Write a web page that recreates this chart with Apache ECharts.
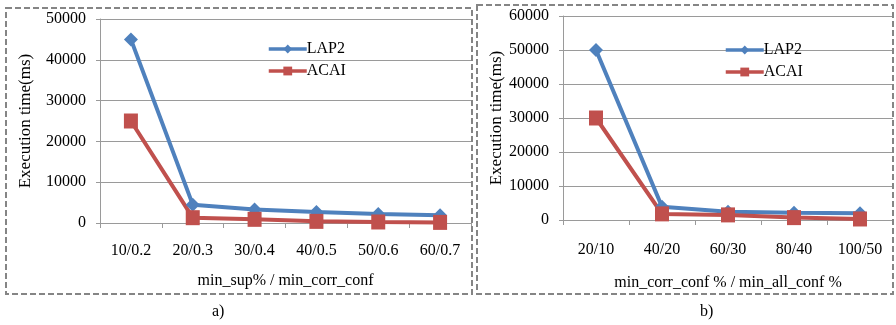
<!DOCTYPE html>
<html>
<head>
<meta charset="utf-8">
<script src="https://cdn.jsdelivr.net/npm/echarts@6/dist/echarts.min.js"></script>
<style>
  html, body { margin: 0; padding: 0; background: #fff; }
  #chart { width: 896px; height: 325px; }
</style>
</head>
<body>
<div id="chart"></div>
<script>
// Panel a): execution time vs. min_sup% / min_corr_conf
const catsA = ['10/0.2', '20/0.3', '30/0.4', '40/0.5', '50/0.6', '60/0.7'];
const lap2A = [45000, 4500, 3300, 2700, 2200, 1900];
const acaiA = [25000, 1300, 900, 400, 250, 150];

// Panel b): execution time vs. min_corr_conf % / min_all_conf %
const catsB = ['20/10', '40/20', '60/30', '80/40', '100/50'];
const lap2B = [50000, 3900, 2400, 2100, 2000];
const acaiB = [30000, 1800, 1500, 700, 300];

const FONT = '"Liberation Serif", "Times New Roman", serif';
const BLUE = '#4F81BD';
const RED = '#C0504D';
const GRID_GRAY = '#9a9a9a';

function xAxis(gridIndex, cats, name, margin, gap) {
  return {
    type: 'category', gridIndex, data: cats,
    boundaryGap: true,
    name, nameLocation: 'middle', nameGap: gap,
    nameTextStyle: { fontFamily: FONT, fontSize: 16, color: '#000' },
    axisLine: { lineStyle: { color: GRID_GRAY, width: 1 } },
    axisTick: { show: true, length: 5, inside: false, lineStyle: { color: GRID_GRAY } },
    axisLabel: { fontFamily: FONT, fontSize: 16, color: '#000', margin, interval: 0 }
  };
}

function yAxis(gridIndex, max, gap) {
  return {
    type: 'value', gridIndex, min: 0, max, interval: 10000,
    name: 'Execution time(ms)', nameLocation: 'middle', nameGap: gap, nameRotate: 90,
    nameTextStyle: { fontFamily: FONT, fontSize: 17, color: '#000' },
    axisLine: { show: true, lineStyle: { color: GRID_GRAY, width: 1 } },
    axisTick: { show: true, length: 4, lineStyle: { color: GRID_GRAY } },
    axisLabel: {
      fontFamily: FONT, fontSize: 16, color: '#000', margin: 14,
      formatter: v => String(v)
    },
    splitLine: { show: true, lineStyle: { color: GRID_GRAY, width: 1 } }
  };
}

function lineSeries(name, data, xi, yi, color, symbol, size) {
  return {
    name, type: 'line', xAxisIndex: xi, yAxisIndex: yi, data,
    symbol, symbolSize: size, showAllSymbol: true,
    lineStyle: { color, width: 4 },
    itemStyle: { color },
    emphasis: { disabled: true },
    animation: false
  };
}

function legend(left, top) {
  return {
    left, top, orient: 'vertical', padding: 0,
    itemWidth: 38, itemHeight: 11, itemGap: 6,
    lineStyle: { width: 3.5 },
    textStyle: { fontFamily: FONT, fontSize: 16, color: '#000', padding: [0, 0, 0, -5] },
    data: ['LAP2', 'ACAI'],
    selectedMode: false
  };
}

const chart = echarts.init(document.getElementById('chart'), null, { renderer: 'canvas' });

chart.setOption({
  animation: false,
  backgroundColor: '#fff',
  grid: [
    { left: 100, top: 19, width: 371, height: 204, containLabel: false },
    { left: 563, top: 16, width: 330, height: 204, containLabel: false }
  ],
  xAxis: [
    xAxis(0, catsA, 'min_sup% / min_corr_conf', 20, 50),
    xAxis(1, catsB, 'min_corr_conf % / min_all_conf %', 22, 55)
  ],
  yAxis: [
    yAxis(0, 50000, 66),
    yAxis(1, 60000, 54)
  ],
  legend: [
    legend(267, 41),
    legend(724, 42)
  ],
  series: [
    lineSeries('LAP2', lap2A, 0, 0, BLUE, 'diamond', 14),
    lineSeries('ACAI', acaiA, 0, 0, RED, 'rect', [14, 15]),
    lineSeries('LAP2', lap2B, 1, 1, BLUE, 'diamond', 14),
    lineSeries('ACAI', acaiB, 1, 1, RED, 'rect', [14, 15])
  ],
  graphic: [
    {
      type: 'rect', silent: true, z: 100,
      shape: { x: 6, y: 8, width: 466, height: 286 },
      style: { fill: 'none', stroke: '#858585', lineWidth: 2, lineDash: [6, 3] }
    },
    {
      type: 'rect', silent: true, z: 100,
      shape: { x: 477, y: 5, width: 416, height: 289 },
      style: { fill: 'none', stroke: '#858585', lineWidth: 2, lineDash: [6, 3] }
    },
    {
      type: 'text', left: 212, top: 304, silent: true,
      style: { text: 'a)', font: '16px ' + FONT, fill: '#000' }
    },
    {
      type: 'text', left: 700, top: 304, silent: true,
      style: { text: 'b)', font: '16px ' + FONT, fill: '#000' }
    }
  ]
});
</script>
</body>
</html>
